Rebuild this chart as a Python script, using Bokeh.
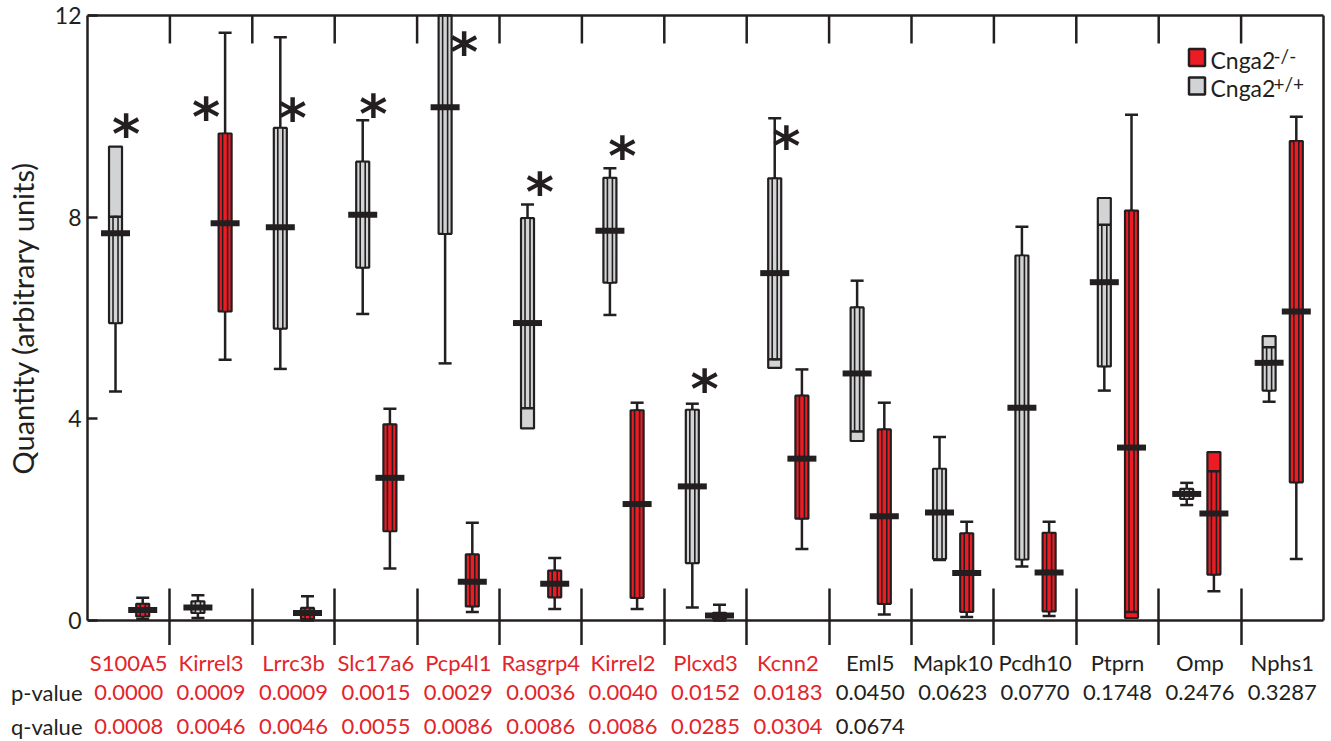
import numpy as np
from bokeh.plotting import figure
from bokeh.layouts import column
from bokeh.models import ColumnDataSource, Range1d, FixedTicker
from bokeh.core.properties import value
from bokeh.embed import file_html
from bokeh.resources import INLINE

# ---------------- data ----------------
genes = ["S100A5", "Kirrel3", "Lrrc3b", "Slc17a6", "Pcp4l1", "Rasgrp4", "Kirrel2",
         "Plcxd3", "Kcnn2", "Eml5", "Mapk10", "Pcdh10", "Ptprn", "Omp", "Nphs1"]
p_values = ["0.0000", "0.0009", "0.0009", "0.0015", "0.0029", "0.0036", "0.0040",
            "0.0152", "0.0183", "0.0450", "0.0623", "0.0770", "0.1748", "0.2476", "0.3287"]
q_values = ["0.0008", "0.0046", "0.0046", "0.0055", "0.0086", "0.0086", "0.0086",
            "0.0285", "0.0304", "0.0674"]
n_red_labels = 9  # genes written in red (significant)

# Cnga2 +/+ (grey)
wt_low = [4.54, 0.05, 4.99, 6.08, 5.10, 4.21, 6.06, 0.26, 5.18, 3.75, 1.20, 1.07, 4.56, 2.29, 4.34]
wt_q1 = [5.90, 0.15, 5.79, 7.00, 7.67, 3.81, 6.70, 1.14, 5.01, 3.56, 1.22, 1.21, 5.04, 2.41, 4.56]
wt_med = [7.68, 0.26, 7.80, 8.05, 10.18, 5.90, 7.73, 2.66, 6.89, 4.90, 2.14, 4.22, 6.71, 2.51, 5.11]
wt_q3 = [9.40, 0.38, 9.77, 9.10, 12.00, 7.98, 8.78, 4.18, 8.77, 6.21, 3.01, 7.24, 8.38, 2.61, 5.64]
wt_high = [8.01, 0.50, 11.57, 9.92, 12.00, 8.25, 8.97, 4.30, 9.96, 6.74, 3.64, 7.81, 7.85, 2.73, 5.42]

# Cnga2 -/- (red)
ko_low = [0.03, 5.17, 0.00, 1.03, 0.17, 0.23, 0.23, 0.00, 1.42, 0.12, 0.07, 0.09, 0.17, 0.58, 1.22]
ko_q1 = [0.08, 6.13, 0.03, 1.77, 0.28, 0.46, 0.45, 0.03, 2.02, 0.33, 0.17, 0.18, 0.05, 0.91, 2.74]
ko_med = [0.21, 7.88, 0.15, 2.83, 0.77, 0.73, 2.31, 0.10, 3.21, 2.07, 0.94, 0.95, 3.43, 2.12, 6.13]
ko_q3 = [0.33, 9.66, 0.25, 3.89, 1.31, 0.99, 4.17, 0.15, 4.46, 3.79, 1.73, 1.74, 8.13, 3.34, 9.51]
ko_high = [0.45, 11.66, 0.48, 4.20, 1.94, 1.24, 4.32, 0.31, 4.98, 4.32, 1.96, 1.96, 10.03, 2.96, 9.99]

# significance stars (annotation anchor points, data space)
star_x = [0.47, 1.44, 2.49, 3.47, 4.57, 5.49, 6.49, 7.49, 8.48]
star_y = [9.84, 10.17, 10.16, 10.23, 11.46, 8.68, 9.40, 4.78, 9.60]

# ---------------- style ----------------
DARK = "#231F20"
RED = "#ED1C24"
RED_TXT = "#E3242B"
GREY = "#D1D3D4"
FONT = "Lato"

W, H = 1331, 741
LEFT, RIGHT, TOP = 87, 5, 13
FRAME_BOTTOM = 622   # pixel row where the plot frame ends
SPLIT = 645          # pixel row where the label strip starts
XS = 82.4            # px per category
YS = 605 / 12.0      # px per unit
Y0 = 620             # pixel row of y = 0
TXT_SHIFT = 7        # bokeh places alphabetic text this much lower


def px2x(px):
    return (px - LEFT) / XS


def px2y(py):
    return (Y0 - py) / YS


n = len(genes)
idx = np.arange(n)
div = idx[1:].astype(float)

# ================= main plot =================
p = figure(width=W, height=SPLIT, output_backend="svg", toolbar_location=None,
           x_range=Range1d(0, (W - LEFT - RIGHT) / XS),
           y_range=Range1d(px2y(FRAME_BOTTOM), px2y(TOP)),
           min_border_left=LEFT, min_border_right=RIGHT,
           min_border_top=TOP, min_border_bottom=SPLIT - FRAME_BOTTOM)
p.frame_align = False
p.xgrid.visible = False
p.ygrid.visible = False
p.outline_line_color = None

ax = p.yaxis[0]
ax.ticker = FixedTicker(ticks=[0, 4, 8, 12])
ax.bounds = (0, 12)
ax.major_tick_in = 10
ax.major_tick_out = 0
ax.minor_tick_line_color = None
ax.axis_line_width = 2.5
ax.axis_line_color = DARK
ax.major_tick_line_width = 2.5
ax.major_tick_line_color = DARK
ax.major_label_text_font = FONT
ax.major_label_text_font_size = "23px"
ax.major_label_text_color = DARK
ax.major_label_standoff = 6
ax.axis_label = "Quantity (arbitrary units)"
ax.axis_label_text_font = FONT
ax.axis_label_text_font_size = "29px"
ax.axis_label_text_font_style = "normal"
ax.axis_label_text_color = DARK
ax.axis_label_standoff = 12

# category dividers crossing the baseline: an x axis with long ticks, no labels
xa = p.xaxis[0]
xa.ticker = FixedTicker(ticks=list(div))
xa.axis_line_color = None
xa.major_tick_in = FRAME_BOTTOM - 588
xa.major_tick_out = SPLIT - FRAME_BOTTOM
xa.major_tick_line_width = 2.5
xa.major_tick_line_color = DARK
xa.minor_tick_line_color = None
xa.major_label_text_font_size = "1px"
xa.major_label_text_color = None
xa.major_label_standoff = 0

# frame lines and top dividers
p.segment(x0=[0, 0, 15], y0=[0, 12, 0], x1=[15, 15, 15], y1=[0, 12, 12],
          line_color=DARK, line_width=2.5)
p.segment(x0=div, y0=[12] * len(div), x1=div, y1=[px2y(43)] * len(div),
          line_color=DARK, line_width=2.5)

BW = 13 / XS      # box width
IW = 5 / XS       # inner whisker channel
CW = 6.5 / XS     # half cap width
MW = 14.5 / XS    # half median width


def draw_group(offset, lo, q1, med, q3, hi, fill):
    lo, q1, med, q3, hi = map(np.asarray, (lo, q1, med, q3, hi))
    x = idx + offset
    src = ColumnDataSource(dict(x=x, lo=lo, q1=q1, med=med, q3=q3, hi=hi,
                                ib=np.maximum(q1, lo), it=np.minimum(q3, hi),
                                xl=x - CW, xr=x + CW, ml=x - MW, mr=x + MW))
    p.segment(x0="x", y0="lo", x1="x", y1="hi", source=src, line_color=DARK, line_width=2.5)
    p.vbar(x="x", width=BW, bottom="q1", top="q3", source=src,
           fill_color=fill, line_color=DARK, line_width=2.2)
    p.vbar(x="x", width=IW, bottom="ib", top="it", source=src,
           fill_color=fill, line_color=DARK, line_width=1.6)
    p.segment(x0="xl", y0="lo", x1="xr", y1="lo", source=src, line_color=DARK, line_width=2.5)
    p.segment(x0="xl", y0="hi", x1="xr", y1="hi", source=src, line_color=DARK, line_width=2.5)
    p.segment(x0="ml", y0="med", x1="mr", y1="med", source=src, line_color=DARK,
              line_width=6, line_cap="butt")


draw_group(0.34, wt_low, wt_q1, wt_med, wt_q3, wt_high, GREY)
draw_group(0.67, ko_low, ko_q1, ko_med, ko_q3, ko_high, RED)

# significance stars
p.text(x=star_x, y=star_y, text=["*"] * len(star_x), text_font=value("DejaVu Sans"),
       text_font_size="54px", text_font_style="bold", text_color=DARK, text_align="center",
       text_baseline="alphabetic", y_offset=10)

# legend
p.rect(x=[px2x(1196.5)] * 2, y=[px2y(57), px2y(85.5)], width=16, height=17,
       width_units="screen", height_units="screen", fill_color=[RED, GREY],
       line_color=DARK, line_width=2.5)
p.text(x=[px2x(1210)] * 2, y=[px2y(66.7 - TXT_SHIFT), px2y(94.3 - TXT_SHIFT)],
       text=["Cnga2", "Cnga2"], text_font=value(FONT), text_font_size="23px",
       text_color=DARK, text_align="left", text_baseline="alphabetic")
p.text(x=[px2x(1273)] * 2, y=[px2y(62 - TXT_SHIFT), px2y(90 - TXT_SHIFT)],
       text=["-/-", "+/+"], text_font=value(FONT), text_font_size="19px",
       text_color=DARK, text_align="left", text_baseline="alphabetic")

# ================= label strip under the axis =================
s = figure(width=W, height=H - SPLIT, output_backend="svg", toolbar_location=None,
           x_range=Range1d(px2x(0), px2x(W)), y_range=Range1d(px2y(H), px2y(SPLIT)),
           x_axis_location=None, y_axis_location=None,
           min_border=0, min_border_left=0, min_border_right=0,
           min_border_top=0, min_border_bottom=0)
s.frame_align = False
s.xgrid.visible = False
s.ygrid.visible = False
s.outline_line_color = None

colors = [RED_TXT if i < n_red_labels else DARK for i in range(n)]
rows = {"gene": 669.3 - TXT_SHIFT, "p": 699 - TXT_SHIFT, "q": 733.3 - TXT_SHIFT}
s.text(x=idx + 0.5, y=[px2y(rows["gene"])] * n, text=genes, text_color=colors,
       text_font=value(FONT), text_font_size="22px", text_align="center",
       text_baseline="alphabetic")
s.text(x=idx + 0.5, y=[px2y(rows["p"])] * n, text=p_values, text_color=colors,
       text_font=value(FONT), text_font_size="22px", text_align="center",
       text_baseline="alphabetic")
nq = len(q_values)
s.text(x=idx[:nq] + 0.5, y=[px2y(rows["q"])] * nq, text=q_values, text_color=colors[:nq],
       text_font=value(FONT), text_font_size="22px", text_align="center",
       text_baseline="alphabetic")
s.text(x=[px2x(82)] * 2, y=[px2y(rows["p"]), px2y(rows["q"])], text=["p-value", "q-value"],
       text_font=value(FONT), text_font_size="22px", text_color=DARK,
       text_align="right", text_baseline="alphabetic")

layout = column(p, s, spacing=0)
open("out.html", "w").write(file_html(layout, INLINE))
